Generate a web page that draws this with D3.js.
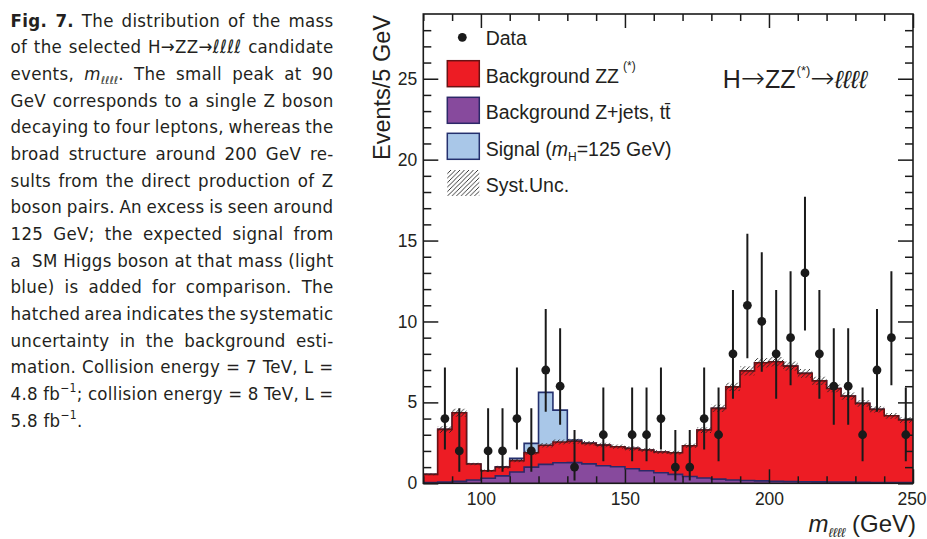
<!DOCTYPE html>
<html>
<head>
<meta charset="utf-8">
<script src="https://cdn.jsdelivr.net/npm/d3@7"></script>
<style>
body{margin:0;background:#fff;}
svg text{fill:#231f20;}
</style>
</head>
<body>
<script>
// bins of 5 GeV from 80 to 250
var binEdges=d3.range(80,255,5);

var dataCounts=[0,4,2,0,2,2,4,2,7,6,1,0,3,0,3,3,4,1,1,4,3,8,11,10,8,9,13,8,6,6,3,7,9,3];
var dataLow =[null,2.09,0.71,null,0.71,0.71,2.09,0.71,4.42,3.62,0.17,null,1.37,null,1.37,1.37,2.09,0.17,0.17,2.09,1.37,5.23,7.73,6.89,5.23,6.06,9.44,5.23,3.62,3.62,1.37,4.42,6.06,1.37];
var dataHigh=[null,7.16,4.64,null,4.64,4.64,7.16,4.64,10.77,9.58,3.30,null,5.92,null,5.92,5.92,7.16,3.30,3.30,7.16,5.92,11.95,15.42,14.27,11.95,13.11,17.70,11.95,9.58,9.58,5.92,10.77,13.11,5.92];

var bkgZjets=[0.04,0.07,0.12,0.2,0.31,0.46,0.7,1.0,1.17,1.27,1.28,1.2,1.08,1.02,0.9,0.78,0.65,0.55,0.42,0.33,0.26,0.2,0.17,0.15,0.13,0.11,0.1,0.09,0.08,0.07,0.06,0.05,0.05,0.04];
var bkgZZ=[0.51,3.26,4.24,0.99,0.47,0.53,0.7,0.89,1.18,1.28,1.32,1.27,1.28,1.24,1.26,1.28,1.28,1.34,1.9,2.96,4.37,5.76,6.78,7.3,7.38,7.13,6.69,6.24,5.78,5.32,4.88,4.52,4.12,3.87];
var signal=[0,0,0,0,0,0.03,0.14,0.58,3.27,1.97,0.08,0.02,0,0,0,0,0,0,0,0,0,0,0,0,0,0,0,0,0,0,0,0,0,0];
var systUnc=[0.05,0.2,0.25,0.08,0.08,0.09,0.1,0.12,0.14,0.15,0.15,0.14,0.14,0.13,0.13,0.12,0.12,0.12,0.14,0.18,0.22,0.26,0.29,0.3,0.3,0.29,0.27,0.26,0.24,0.22,0.21,0.2,0.18,0.17];

var xMajor=[100,150,200,250],
	xMinor=[80,90,110,120,130,140,160,170,180,190,210,220,230,240],
	yMajor=[0,5,10,15,20,25],
	yMinor=[1,2,3,4,6,7,8,9,11,12,13,14,16,17,18,19,21,22,23,24,26,27,28];

var captionLines=[
	[["Fig. 7.","b"],[" The distribution of the mass"]],
	[["of the selected H→ZZ→"],["ℓℓℓℓ","i"],[" candidate"]],
	[["events, "],["m","i"],["ℓℓℓℓ","sub"],[". The small peak at 90"]],
	[["GeV corresponds to a single Z boson"]],
	[["decaying to four leptons, whereas the"]],
	[["broad structure around 200 GeV re-"]],
	[["sults from the direct production of Z"]],
	[["boson pairs. An excess is seen around"]],
	[["125 GeV; the expected signal from"]],
	[["a  SM Higgs boson at that mass (light"]],
	[["blue) is added for comparison. The"]],
	[["hatched area indicates the systematic"]],
	[["uncertainty in the background esti-"]],
	[["mation. Collision energy = 7 TeV, L ="]],
	[["4.8 fb"],["−1","sup"],["; collision energy = 8 TeV, L ="]],
	[["5.8 fb"],["−1","sup"],["."]]
];

var WIDTH=927, HEIGHT=539;
var L=423.3, R=913, T=14, B=483.3;
var axisFont='"Liberation Sans", Arial, Helvetica, sans-serif';

var svg=d3.select("body").append("svg")
	.attr("width",WIDTH)
	.attr("height",HEIGHT);

var x=d3.scaleLinear().domain([80,250]).range([L,R]);
var y=d3.scaleLinear().domain([0,29]).range([B,T]);

var defs=svg.append("defs");
var hatch=defs.append("pattern")
	.attr("id","hatch")
	.attr("patternUnits","userSpaceOnUse")
	.attr("width",4.5).attr("height",4.5);
hatch.append("path")
	.attr("d","M-1,1 L1,-1 M0,4.5 L4.5,0 M3.5,5.5 L5.5,3.5")
	.attr("stroke","#222").attr("stroke-width",0.9);

defs.append("clipPath").attr("id","plotclip")
	.append("rect").attr("x",L).attr("y",T).attr("width",R-L).attr("height",B-T);

// stacked totals
var totZZ=bkgZZ.map(function(d,i){ return d+bkgZjets[i]; });
var totAll=signal.map(function(d,i){ return d+totZZ[i]; });

function stepPoints(vals){
	var pts=[];
	vals.forEach(function(v,i){
		pts.push([binEdges[i],v]);
		pts.push([binEdges[i+1],v]);
	});
	return pts;
}

var area=d3.area()
	.x(function(d){ return x(d[0]); })
	.y0(y(0))
	.y1(function(d){ return y(d[1]); });
var line=d3.line()
	.x(function(d){ return x(d[0]); })
	.y(function(d){ return y(d[1]); });

var plot=svg.append("g").attr("clip-path","url(#plotclip)");

var hists=[
	{vals:totAll, fill:"#a9c7e8", stroke:"#24306e"},
	{vals:totZZ, fill:"#ed1c24", stroke:"#6a1214"},
	{vals:bkgZjets, fill:"#874a9d", stroke:"#2c2868"}
];
hists.forEach(function(h){
	var pts=stepPoints(h.vals);
	plot.append("path").attr("d",area(pts)).attr("fill",h.fill);
	plot.append("path").attr("d",line(pts))
		.attr("fill","none").attr("stroke",h.stroke).attr("stroke-width",1.6);
});

// syst band
var band=d3.area()
	.x(function(d){ return x(d[0]); })
	.y0(function(d){ return y(d[1]-d[2]); })
	.y1(function(d){ return y(d[1]+d[2]); });
var bandPts=[];
totZZ.forEach(function(v,i){
	bandPts.push([binEdges[i],v,systUnc[i]]);
	bandPts.push([binEdges[i+1],v,systUnc[i]]);
});
plot.append("path").attr("d",band(bandPts)).attr("fill","url(#hatch)");

// data points
var pts=dataCounts.map(function(d,i){
	return {x:binEdges[i]+2.5,n:d,lo:dataLow[i],hi:dataHigh[i]};
}).filter(function(d){ return d.n>0; });

plot.selectAll("line.err").data(pts).enter()
	.append("line").attr("class","err")
	.attr("x1",function(d){ return x(d.x); })
	.attr("x2",function(d){ return x(d.x); })
	.attr("y1",function(d){ return y(d.lo); })
	.attr("y2",function(d){ return y(d.hi); })
	.attr("stroke","#1a1a1a").attr("stroke-width",2);
plot.selectAll("circle.pt").data(pts).enter()
	.append("circle").attr("class","pt")
	.attr("cx",function(d){ return x(d.x); })
	.attr("cy",function(d){ return y(d.n); })
	.attr("r",4.4).attr("fill","#1a1a1a");

// axes, ticks inward
function styleAxis(g){
	g.select(".domain").remove();
	g.selectAll(".tick line").attr("stroke","#1a1a1a").attr("stroke-width",1.5);
	g.selectAll(".tick text").attr("font-family",axisFont).attr("font-size",17.5).attr("fill","#231f20");
}
var xb=svg.append("g").attr("transform","translate(0,"+B+")")
	.call(d3.axisBottom(x).tickValues(xMajor).tickSize(-14).tickPadding(9).tickFormat(d3.format("d")))
	.call(styleAxis);
// last label sits against the page edge
xb.selectAll(".tick text").filter(function(d){ return d==250; }).attr("dx",-1.5);
svg.append("g").attr("transform","translate(0,"+B+")")
	.call(d3.axisBottom(x).tickValues(xMinor).tickSize(-7).tickFormat(""))
	.call(styleAxis);
svg.append("g").attr("transform","translate(0,"+T+")")
	.call(d3.axisTop(x).tickValues(xMajor).tickSize(-14).tickFormat(""))
	.call(styleAxis);
svg.append("g").attr("transform","translate(0,"+T+")")
	.call(d3.axisTop(x).tickValues(xMinor).tickSize(-7).tickFormat(""))
	.call(styleAxis);
svg.append("g").attr("transform","translate("+L+",0)")
	.call(d3.axisLeft(y).tickValues(yMajor).tickSize(-15).tickPadding(6).tickFormat(d3.format("d")))
	.call(styleAxis);
svg.append("g").attr("transform","translate("+L+",0)")
	.call(d3.axisLeft(y).tickValues(yMinor).tickSize(-8).tickFormat(""))
	.call(styleAxis);
svg.append("g").attr("transform","translate("+R+",0)")
	.call(d3.axisRight(y).tickValues(yMajor).tickSize(-15).tickFormat(""))
	.call(styleAxis);
svg.append("g").attr("transform","translate("+R+",0)")
	.call(d3.axisRight(y).tickValues(yMinor).tickSize(-8).tickFormat(""))
	.call(styleAxis);

svg.append("rect").attr("x",L).attr("y",T).attr("width",R-L).attr("height",B-T)
	.attr("fill","none").attr("stroke","#1a1a1a").attr("stroke-width",1.6);

// axis titles
svg.append("text")
	.attr("transform","translate(390,15) rotate(-90)")
	.attr("text-anchor","end")
	.attr("font-family",axisFont).attr("font-size",23.5)
	.text("Events/5 GeV");

var xt=svg.append("text").attr("x",916).attr("y",532).attr("text-anchor","end")
	.attr("font-family",axisFont).attr("font-size",24);
xt.append("tspan").attr("font-style","italic").text("m");
xt.append("tspan").attr("font-style","italic").attr("font-size",13).attr("dy",5).text("ℓℓℓℓ");
xt.append("tspan").attr("dy",-5).text(" (GeV)");

// channel label, long thin arrows
var arrowFont='"DejaVu Sans", sans-serif';
var ch=svg.append("text").attr("x",722.7).attr("y",88.3)
	.attr("font-family",axisFont).attr("font-size",25);
ch.append("tspan").text("H");
ch.append("tspan").attr("font-family",arrowFont).attr("font-weight",200).attr("font-size",29).text("→");
ch.append("tspan").text("ZZ");
ch.append("tspan").attr("font-size",13).attr("dx",1).attr("dy",-13).text("(*)");
ch.append("tspan").attr("font-family",arrowFont).attr("font-weight",200).attr("font-size",29).attr("dy",13).text("→");
ch.append("tspan").attr("font-style","italic").text("ℓℓℓℓ");

// legend
var leg=svg.append("g").attr("font-family",axisFont).attr("font-size",19.5);
leg.append("circle").attr("cx",462.3).attr("cy",37.3).attr("r",4.4).attr("fill","#1a1a1a");
leg.append("text").attr("x",485.7).attr("y",45).text("Data");

var legBoxes=[
	{y:60.7, fill:"#ed1c24", stroke:"#6a1214"},
	{y:97.3, fill:"#874a9d", stroke:"#2c2868"},
	{y:133.3, fill:"#a9c7e8", stroke:"#24306e"},
	{y:170, fill:"url(#hatch)", stroke:"none"}
];
legBoxes.forEach(function(b){
	leg.append("rect").attr("x",447.3).attr("y",b.y).attr("width",32).attr("height",26)
		.attr("fill",b.fill).attr("stroke",b.stroke).attr("stroke-width",1.5);
});
var t1=leg.append("text").attr("x",485.7).attr("y",82.7);
t1.append("tspan").text("Background ZZ");
t1.append("tspan").attr("font-size",12).attr("dx",4).attr("dy",-13).text("(*)");
leg.append("text").attr("x",485.7).attr("y",119).text("Background Z+jets, tt\u0304");
var t3=leg.append("text").attr("x",485.7).attr("y",155.7);
t3.append("tspan").text("Signal (");
t3.append("tspan").attr("font-style","italic").text("m");
t3.append("tspan").attr("font-size",12).attr("dy",5).text("H");
t3.append("tspan").attr("dy",-5).text("=125 GeV)");
leg.append("text").attr("x",485.7).attr("y",192).text("Syst.Unc.");

// caption, justified with word spacing
var cap=svg.append("g")
	.attr("font-family",'"DejaVu Sans Condensed", "DejaVu Sans", sans-serif')
	.attr("font-size",18.5)
	.style("letter-spacing","0.3px");
captionLines.forEach(function(segs,i){
	var t=cap.append("text").attr("x",10.5).attr("y",26.7+i*26.67).style("white-space","pre");
	var shift=0, spaces=0;
	segs.forEach(function(s){
		var ts=t.append("tspan").text(s[0]);
		var want=0;
		if(s[1]=="b") ts.attr("font-weight","bold");
		if(s[1]=="i") ts.attr("font-style","italic");
		if(s[1]=="sub"){ ts.attr("font-style","italic").attr("font-size",11); want=4; }
		if(s[1]=="sup"){ ts.attr("font-size",12); want=-8; }
		if(want!=shift) ts.attr("dy",want-shift);
		shift=want;
		spaces+=(s[0].match(/ /g)||[]).length;
	});
	if(i<captionLines.length-1){
		var w=t.node().getComputedTextLength();
		t.style("word-spacing",((323-w)/spaces)+"px");
	}
});
</script>
</body>
</html>
